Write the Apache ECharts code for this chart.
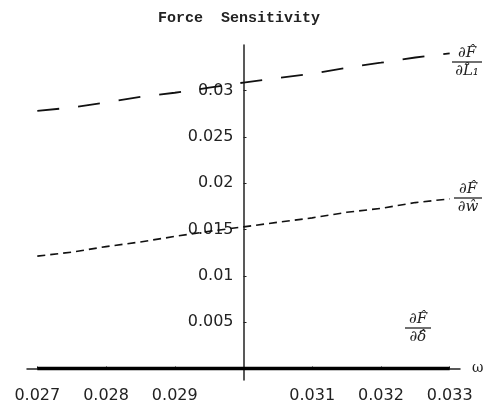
<!DOCTYPE html>
<html>
<head>
<meta charset="utf-8">
<script src="https://cdn.jsdelivr.net/npm/echarts@6/dist/echarts.min.js"></script>
<style>
  html, body { margin: 0; padding: 0; background: #fff; }
  #chart { width: 484px; height: 404px; }
</style>
</head>
<body>
<div id="chart"></div>
<script>
// Frequency samples (ω) and the three force sensitivities
const omega = [0.027, 0.0275, 0.028, 0.0285, 0.029, 0.0295, 0.030,
               0.0305, 0.031, 0.0315, 0.032, 0.0325, 0.033];
const dF_dL1 = [0.02780, 0.02815, 0.02870, 0.02930, 0.02975, 0.03030, 0.03085,
                0.03135, 0.03180, 0.03245, 0.03299, 0.03355, 0.03400];
const dF_dw = [0.01212, 0.01255, 0.01315, 0.01365, 0.01425, 0.01480, 0.01528,
               0.01578, 0.01625, 0.01685, 0.01728, 0.01790, 0.01830];
const dF_ddelta = [0, 0, 0, 0, 0, 0, 0, 0, 0, 0, 0, 0, 0];

// Tick labels
const xTickLabels = [0.027, 0.028, 0.029, 0.031, 0.032, 0.033];
const yTickLabels = [0.005, 0.01, 0.015, 0.02, 0.025, 0.03];

// The vertical axis crosses the horizontal one at ω = 0.030,
// so the x scale is measured relative to that origin.
const OMEGA_ORIGIN = 0.030;
const X_HALF_RANGE = 0.00315;
const shift = w => +(w - OMEGA_ORIGIN).toFixed(6);
const pairs = vals => omega.map((w, i) => [shift(w), vals[i]]);

const GRID = { left: 27, right: 24, top: 45, bottom: 24 };
const WIDTH = 484;
// x range is symmetric about the origin, so the vertical axis sits mid-grid
const yAxisShift = -(WIDTH - GRID.left - GRID.right) / 2;

const chart = echarts.init(document.getElementById('chart'), null, { renderer: 'canvas' });

const labelFont = { fontFamily: 'DejaVu Sans', fontSize: 16, color: '#222' };
const mathFont = 'italic 15px "DejaVu Serif"';

function fraction(cx, barY, halfW, num, den) {
  return {
    type: 'group',
    x: cx, y: barY,
    silent: true,
    children: [
      { type: 'text', style: { text: num, x: 0, y: -1, font: mathFont, fill: '#222',
          align: 'center', verticalAlign: 'bottom' } },
      { type: 'line', shape: { x1: -halfW, y1: 0, x2: halfW, y2: 0 },
        style: { stroke: '#222', lineWidth: 1.3 } },
      { type: 'text', style: { text: den, x: 0, y: 2, font: mathFont, fill: '#222',
          align: 'center', verticalAlign: 'top' } }
    ]
  };
}

chart.setOption({
  animation: false,
  backgroundColor: '#fff',
  title: {
    text: 'Force  Sensitivity',
    left: 153, top: 6,
    textStyle: { fontFamily: 'Liberation Mono', fontSize: 15, fontWeight: 'bold', color: '#222' }
  },
  grid: Object.assign({ containLabel: false, outerBoundsMode: 'none' }, GRID),
  xAxis: {
    type: 'value',
    min: -X_HALF_RANGE, max: X_HALF_RANGE,
    name: 'ω',
    nameLocation: 'end',
    nameGap: 12,
    nameTextStyle: { fontFamily: 'DejaVu Serif', fontSize: 14, color: '#222', verticalAlign: 'middle' },
    axisLine: { onZero: true, lineStyle: { color: '#222', width: 1.5 } },
    axisTick: { show: true, inside: true, length: 2, customValues: xTickLabels.map(shift),
                lineStyle: { color: '#222' } },
    axisLabel: Object.assign({ customValues: xTickLabels.map(shift), margin: 8,
      formatter: v => (v + OMEGA_ORIGIN).toFixed(3) }, labelFont),
    splitLine: { show: false }
  },
  yAxis: {
    type: 'value',
    position: 'left',
    offset: yAxisShift,
    min: -0.00124, max: 0.0349,
    axisLine: { onZero: false, lineStyle: { color: '#222', width: 1.5 } },
    axisTick: { show: true, inside: true, length: 3, customValues: yTickLabels,
                lineStyle: { color: '#222' } },
    axisLabel: Object.assign({ customValues: yTickLabels, margin: 10,
      formatter: v => String(+v.toFixed(3)) }, labelFont),
    splitLine: { show: false }
  },
  series: [
    {
      name: '∂F/∂L1', type: 'line', data: pairs(dF_dL1), showSymbol: false, z: 3,
      lineStyle: { color: '#111', width: 1.8, type: [22, 19] }
    },
    {
      name: '∂F/∂w', type: 'line', data: pairs(dF_dw), showSymbol: false, z: 3,
      lineStyle: { color: '#111', width: 1.6, type: [8, 5] }
    },
    {
      name: '∂F/∂δ', type: 'line', data: pairs(dF_ddelta), showSymbol: false, z: 3,
      lineStyle: { color: '#000', width: 3.5, type: 'solid' }
    }
  ],
  graphic: [
    fraction(467, 62, 15, '∂F̂', '∂L̂₁'),
    fraction(468, 198, 14, '∂F̂', '∂ŵ'),
    fraction(418, 328, 13, '∂F̂', '∂δ̂')
  ]
});
</script>
</body>
</html>
